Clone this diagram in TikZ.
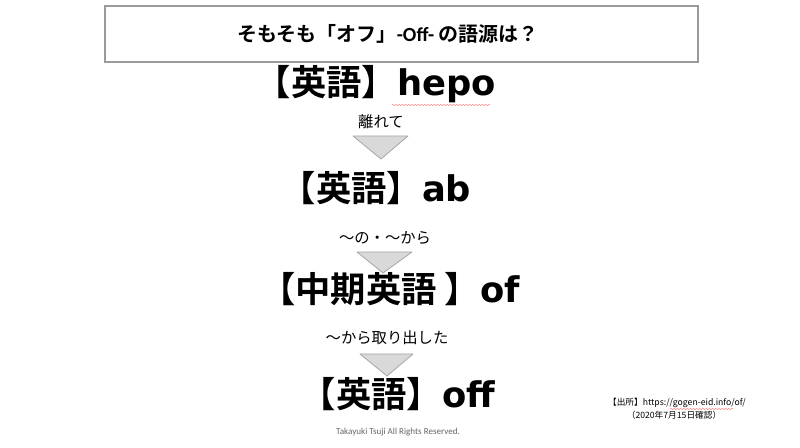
\documentclass[tikz,border=0pt]{standalone}
\usepackage{fontspec}
\setmainfont{Noto Sans CJK JP}[BoldFont={Noto Sans CJK JP Bold}]
\newfontfamily\calib{Carlito}
\newfontfamily\latin{DejaVu Sans}
\usetikzlibrary{positioning, decorations.pathmorphing}
\definecolor{trifill}{HTML}{D9D9D9}
\definecolor{triline}{HTML}{A6A6A6}
\definecolor{boxline}{HTML}{9A9A9A}
\tikzstyle{titlebox} = [draw=boxline, line width=1.5pt, fill=white]
\tikzstyle{stage} = [inner sep=0pt, font=\fontsize{26.5pt}{30pt}\selectfont\bfseries, text height=0.88em, text depth=0.12em]
\tikzstyle{gloss} = [inner sep=0pt, font=\fontsize{11.5pt}{13pt}\selectfont]
\tikzstyle{downtri} = [draw=triline, fill=trifill, line width=0.6pt, line join=round]
\tikzstyle{squiggle} = [red!45, line width=0.4pt, decorate, decoration={snake, amplitude=0.5pt, segment length=2.4pt}]
\tikzstyle{small} = [inner sep=0pt, font=\fontsize{6.5pt}{8pt}\selectfont]

\begin{document}
\begin{tikzpicture}[x=0.75pt, y=-0.75pt]
  \useasboundingbox (0,0) rectangle (800,448);
  % Title
  \draw [titlebox] (105,6) rectangle (698,62);
  \node (Title) [inner sep=0pt, font=\fontsize{15pt}{18pt}\selectfont\bfseries] at (388,34) {そもそも「オフ」{\calib -Off-} の語源は？};

  % Stages
  \node (Hepo) [stage] at (376,90) {【英語】{\latin hepo}};
  \node (Ab) [stage] at (376,196) {【英語】{\latin ab}};
  \node (Of) [stage] at (390,297) {【中期英語 】{\latin of}};
  \node (Off) [stage] at (398,402) {【英語】{\latin off}};

  % Meanings between stages
  \node (HepoGloss) [gloss] at (381,122) {離れて};
  \node (AbGloss) [gloss] at (385,238) {〜の・〜から};
  \node (OfGloss) [gloss] at (387,338) {〜から取り出した};

  % Triangles
  \draw [downtri] (353,136) -- (408,136) -- (381,159) -- cycle;
  \draw [downtri] (357,252) -- (412,252) -- (383,273) -- cycle;
  \draw [downtri] (360,354) -- (413,354) -- (387,376) -- cycle;

  % Source and footer
  \node (Source) [small] at (677,403) {【出所】https://gogen-eid.info/of/};
  \node (Checked) [small] at (674,415) {（2020年7月15日確認）};
  \node (Footer) [inner sep=0pt, font=\fontsize{6.8pt}{8pt}\selectfont\calib, text=black!60] at (398,432) {Takayuki Tsuji All Rights Reserved.};

  % spell check marks
  \draw [squiggle] (392,105) -- (490,105);
  \draw [squiggle] (670,409) -- (733,409);
\end{tikzpicture}
\end{document}
